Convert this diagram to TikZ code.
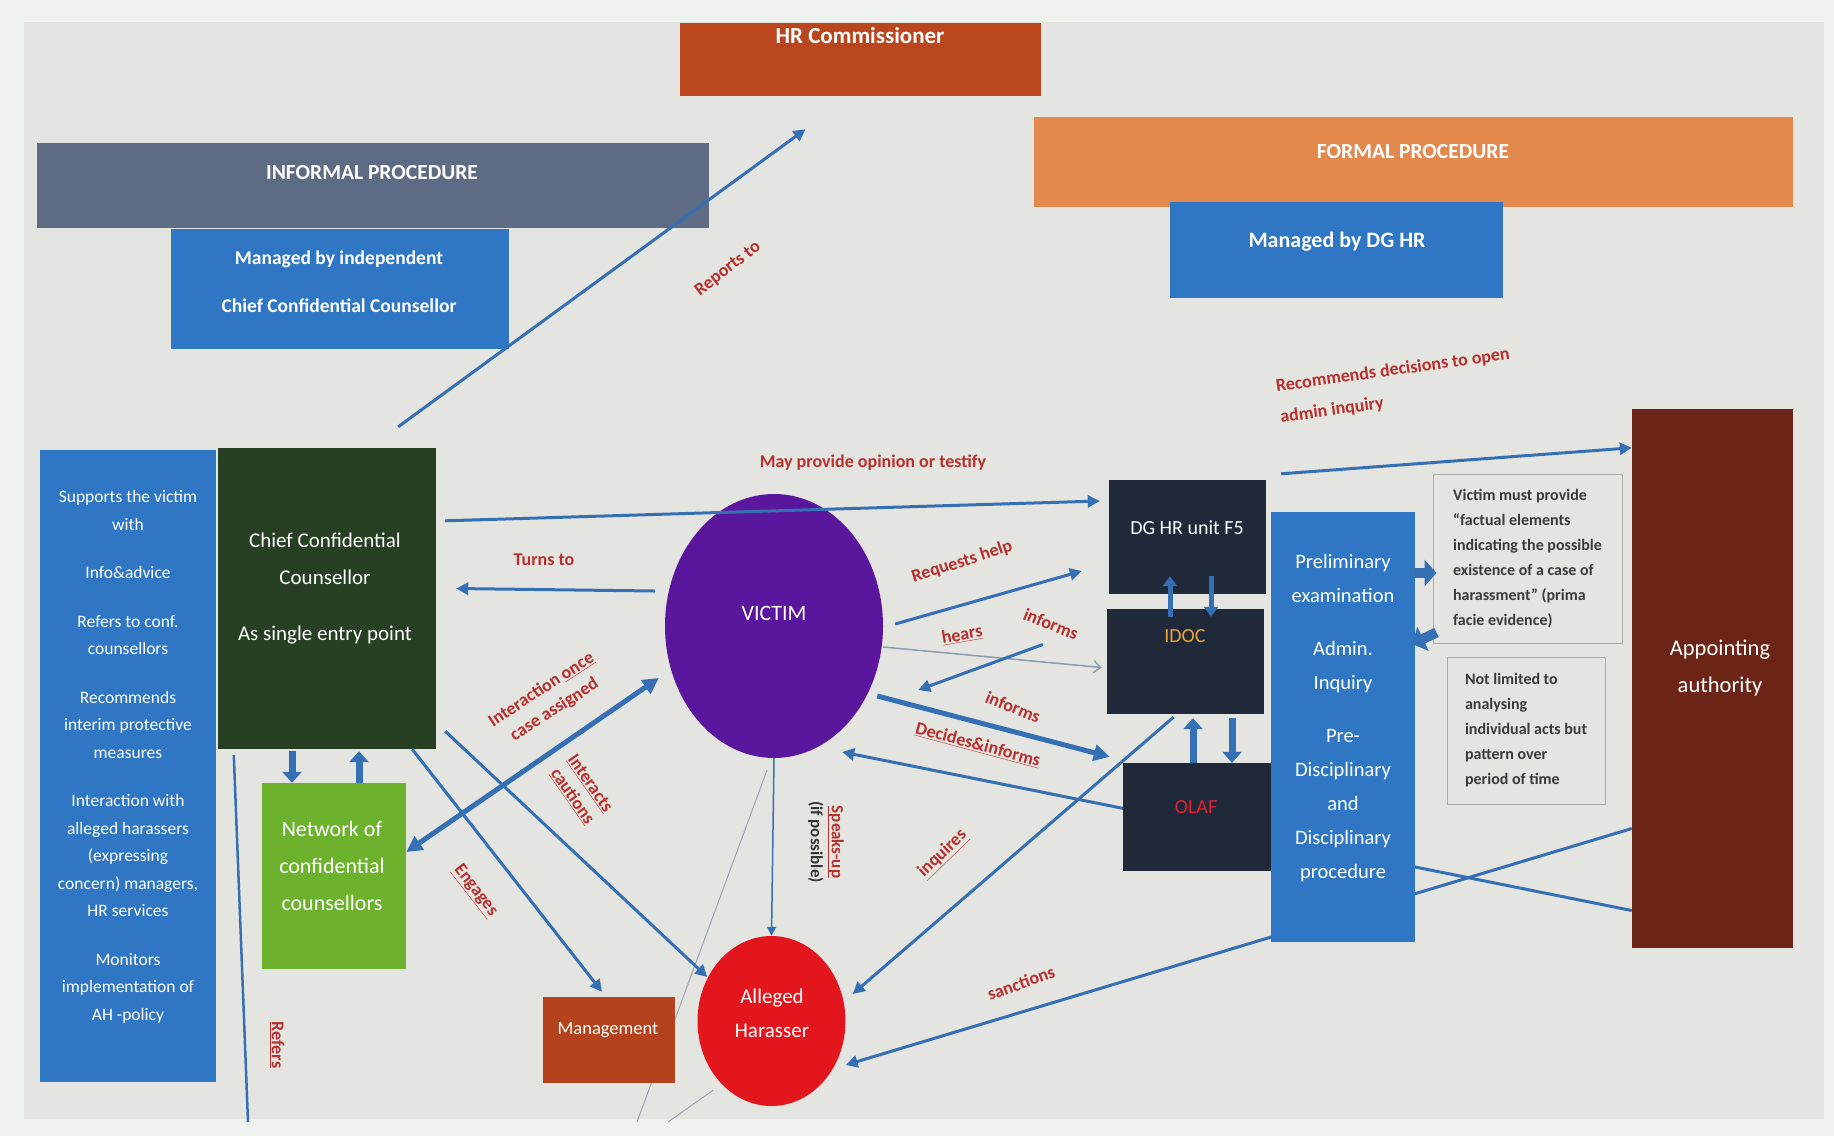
\documentclass[tikz,border=0pt]{standalone}
\usepackage{fontspec}
\setmainfont{Carlito}
\usetikzlibrary{arrows.meta,shapes.geometric,calc,positioning}
\definecolor{framebg}{HTML}{EEF3EE}
\definecolor{screenbg}{HTML}{E4E4E1}
\definecolor{arrblue}{HTML}{3570B5}
\definecolor{labred}{HTML}{B8302E}
\definecolor{boxblue}{HTML}{2F77C4}
\definecolor{informalgrey}{HTML}{5E6B84}
\definecolor{formalorange}{HTML}{E3894E}
\definecolor{hrred}{HTML}{B9461D}
\definecolor{cccgreen}{HTML}{273F23}
\definecolor{netgreen}{HTML}{6CB22D}
\definecolor{navy}{HTML}{1F2939}
\definecolor{vicpurple}{HTML}{5A169C}
\definecolor{harred}{HTML}{E3161D}
\definecolor{mgmtred}{HTML}{B3421D}
\definecolor{apptbrown}{HTML}{6B2416}
\definecolor{idocorange}{HTML}{E9A43C}
\definecolor{olafred}{HTML}{E0222C}
\definecolor{notegrey}{HTML}{A9A9A6}
\definecolor{notetext}{HTML}{3A3A3A}
\definecolor{faintgrey}{HTML}{9AA3B2}
\definecolor{hearsgrey}{HTML}{8D9BB0}
\definecolor{darktext}{HTML}{333333}
\pgfdeclarelayer{back}
\pgfdeclarelayer{bg}
\pgfsetlayers{back,bg,main}
\begin{document}
\begin{tikzpicture}[x=1pt,y=-1pt,
  box/.style={rectangle,inner sep=0pt},
  wtxt/.style={text=white,align=center,inner sep=0pt},
  lbl/.style={text=labred,font=\fontsize{18}{22}\selectfont\bfseries,align=center,inner sep=0pt},
  arr/.style={draw=arrblue,line width=3pt,-{Triangle[length=12pt,width=12pt]}},
  heavy/.style={draw=arrblue,line width=5pt,-{Triangle[length=16pt,width=16pt]}},
  fat/.style={draw=arrblue,line width=7pt,-{Triangle[length=11pt,width=19pt]}},
  thin/.style={draw=arrblue,line width=1.5pt,-{Triangle[length=9pt,width=9pt]}},
  faint/.style={draw=faintgrey,line width=1pt},
  note/.style={draw=notegrey,line width=1pt,rectangle,inner sep=0pt,text=notetext,align=left,font=\fontsize{16}{25}\selectfont\bfseries}]
\useasboundingbox (0,0) rectangle (1834,1136);
\begin{pgfonlayer}{back}
\fill[framebg] (0,0) rectangle (1834,1136);
\fill[screenbg] (24,22) rectangle (1824,1119);
\end{pgfonlayer}

\node[box,fill=hrred,minimum width=361pt,minimum height=73pt] (hrc) at (860.5,59.5) {};
\node[box,fill=informalgrey,minimum width=672pt,minimum height=85pt] (informal) at (373,185.5) {};
\node[box,fill=boxblue,minimum width=338pt,minimum height=120pt] (mindep) at (340,289) {};
\node[box,fill=formalorange,minimum width=759pt,minimum height=90pt] (formal) at (1413.5,162) {};
\node[box,fill=boxblue,minimum width=333pt,minimum height=96pt] (mdghr) at (1336.5,250) {};
\node[box,fill=boxblue,minimum width=176pt,minimum height=632pt] (leftcol) at (128,766) {};
\node[box,fill=cccgreen,minimum width=218pt,minimum height=301pt] (ccc) at (327,598.5) {};
\node[box,fill=netgreen,minimum width=144pt,minimum height=186pt] (network) at (334,876) {};
\node[box,fill=mgmtred,minimum width=132pt,minimum height=86pt] (mgmt) at (609,1040) {};
\node[ellipse,fill=vicpurple,inner sep=0pt,minimum width=218pt,minimum height=264pt] (victim) at (774,626) {};
\node[ellipse,fill=harred,inner sep=0pt,minimum width=148pt,minimum height=170pt] (harasser) at (771.5,1021) {};
\node[box,fill=navy,minimum width=157pt,minimum height=114pt] (dghr) at (1187.5,537) {};
\node[box,fill=navy,minimum width=157pt,minimum height=105pt] (idoc) at (1185.5,661.5) {};
\node[box,fill=navy,minimum width=148pt,minimum height=108pt] (olaf) at (1197,817) {};
\node[box,fill=boxblue,minimum width=144pt,minimum height=430pt] (prelim) at (1343,727) {};
\node[box,fill=apptbrown,minimum width=161pt,minimum height=539pt] (appoint) at (1712.5,678.5) {};
\node[note,minimum width=189pt,minimum height=169pt] (factual) at (1527.5,558.5) {Victim must provide\\“factual elements\\indicating the possible\\existence of a case of\\harassment” (prima\\facie evidence)};
\node[note,minimum width=158pt,minimum height=147pt] (notlim) at (1526,730.5) {Not limited to\\analysing\\individual acts but\\pattern over\\period of time};

\node[wtxt,font=\fontsize{23}{26}\selectfont\bfseries] (hrctxt) at (860,36) {HR Commissioner};
\node[wtxt,font=\fontsize{21.5}{24}\selectfont\bfseries] (informaltxt) at (372,173) {INFORMAL PROCEDURE};
\node[wtxt,font=\fontsize{19.5}{48}\selectfont\bfseries] (mindeptxt) at (339,282) {Managed by independent\\Chief Confidential Counsellor};
\node[wtxt,font=\fontsize{21.5}{24}\selectfont\bfseries] (formaltxt) at (1413,152) {FORMAL PROCEDURE};
\node[wtxt,font=\fontsize{22}{24}\selectfont\bfseries] (mdghrtxt) at (1337,242) {Managed by DG HR};
\node[wtxt,font=\fontsize{17.5}{27.5}\selectfont] (leftcoltxt) at (128,757) {Supports the victim\\with\\[21pt]Info\&advice\\[21pt]Refers to conf.\\counsellors\\[21pt]Recommends\\interim protective\\measures\\[21pt]Interaction with\\alleged harassers\\(expressing\\concern) managers,\\HR services\\[21pt]Monitors\\implementation of\\AH -policy};
\node[wtxt,font=\fontsize{21}{37}\selectfont] (ccctxt) at (325,589) {Chief Confidential\\Counsellor\\[19pt]As single entry point};
\node[wtxt,font=\fontsize{22}{37}\selectfont] (networktxt) at (332,866) {Network of\\confidential\\counsellors};
\node[wtxt,font=\fontsize{22}{24}\selectfont] (victimtxt) at (774,613) {VICTIM};
\node[wtxt,font=\fontsize{18.5}{20}\selectfont] (mgmttxt) at (608,1030) {Management};
\node[wtxt,font=\fontsize{21}{34}\selectfont] (harassertxt) at (772,1013) {Alleged\\Harasser};
\node[wtxt,font=\fontsize{20}{22}\selectfont] (dghrtxt) at (1187,528) {DG HR unit F5};
\node[wtxt,text=idocorange,font=\fontsize{20}{22}\selectfont] (idoctxt) at (1185,636) {IDOC};
\node[wtxt,text=olafred,font=\fontsize{20}{22}\selectfont] (olaftxt) at (1196,807) {OLAF};
\node[wtxt,font=\fontsize{20.5}{34}\selectfont] (prelimtxt) at (1343,718) {Preliminary\\examination\\[19pt]Admin.\\Inquiry\\[19pt]Pre-\\Disciplinary\\and\\Disciplinary\\procedure};
\node[wtxt,font=\fontsize{22.5}{37}\selectfont] (appointtxt) at (1720,668) {Appointing\\authority};

\begin{pgfonlayer}{bg}
\draw[arr] ($(appoint.west)+(0,232)$) -- ($(victim.east)+(-41,126)$);
\draw[arr] ($(appoint.west)+(0,150)$) -- ($(harasser.east)+(0,44)$);
\coordinate (exitl) at (637,1122);
\draw[faint] ($(victim.south)+(-7,12)$) -- (exitl);
\end{pgfonlayer}

\draw[arr] ($(ccc.north east)+(-38,-21)$) -- ($(hrc.south)+(-55,33)$);
\draw[arr] ($(ccc.north east)+(9,73)$) -- ($(dghr.west)+(-9,-36)$);
\draw[arr] ($(victim.west)+(-10,-35)$) -- ($(ccc.east)+(20,-10)$);
\draw[arr] ($(victim.east)+(12,-2)$) -- ($(dghr.west)+(-27,34)$);
\draw[draw=hearsgrey,line width=1.5pt,-{Straight Barb[length=7pt,width=12pt]}] ($(victim.east)+(0,21)$) -- ($(idoc.west)+(-5,6)$);
\draw[arr] ($(idoc.west)+(-64,-17)$) -- ($(victim.east)+(35,64)$);
\draw[heavy] ($(victim.east)+(-6,70)$) -- ($(olaf.north west)+(-13,-6)$);
\draw[arr] ($(idoc.south)+(-12,3)$) -- ($(harasser.east)+(7,-27)$);
\draw[arr] ($(dghr.north east)+(15,-6)$) -- ($(appoint.north west)+(0,39)$);
\draw[thin] (victim.south) -- (harasser.north);
\coordinate (exitr) at (668,1122);
\coordinate (exitb) at (248,1122);
\draw[faint] ($(harasser.south west)+(-6,9)$) -- (exitr);
\draw[heavy,{Triangle[length=16pt,width=16pt]}-{Triangle[length=16pt,width=16pt]}] ($(network.east)+(0,-24)$) -- ($(victim.west)+(-6,52)$);
\draw[arr] ($(ccc.south east)+(9,-18)$) -- ($(harasser.west)+(10,-44)$);
\draw[arr] ($(ccc.south east)+(-24,0)$) -- ($(mgmt.north)+(-7,-5)$);
\draw[draw=arrblue,line width=2.5pt] ($(ccc.south west)+(16,6)$) -- (exitb);

\draw[fat] ($(ccc.south)+(-35,2)$) -- ($(network.north)+(-42,0)$);
\draw[fat] ($(network.north)+(25,0)$) -- ($(ccc.south)+(32,2)$);
\draw[draw=arrblue,line width=5pt,-{Triangle[length=10pt,width=14pt]}] ($(idoc.north)+(-15.5,8)$) -- ($(dghr.south)+(-17.5,-18)$);
\draw[draw=arrblue,line width=5pt,-{Triangle[length=10pt,width=14pt]}] ($(dghr.south)+(23.5,-18)$) -- ($(idoc.north)+(25.5,8)$);
\draw[fat] ($(olaf.north)+(-4,0)$) -- ($(idoc.south)+(7.5,4)$);
\draw[fat] ($(idoc.south)+(46.5,4)$) -- ($(olaf.north)+(35,0)$);
\draw[draw=arrblue,line width=10pt,-{Triangle[length=12pt,width=26pt]}] ($(prelim.east)+(-5,-154)$) -- ($(factual.west)+(4,14.5)$);
\draw[draw=arrblue,line width=10pt,-{Triangle[length=12pt,width=26pt]}] ($(factual.west)+(4,74)$) -- ($(prelim.east)+(-3,-83)$);

\node[lbl,rotate=38] (reportslbl) at (728,269) {Reports to};
\node[lbl] (opinionlbl) at (873,463) {May provide opinion or testify};
\node[lbl] (turnslbl) at (544,560) {Turns to};
\node[lbl,rotate=18] (requestslbl) at (962,562) {Requests help};
\node[lbl,rotate=10] (hearslbl) at (962,635) {\underline{hears}};
\node[lbl,rotate=-22] (informslbl) at (1051,624) {informs};
\node[lbl,rotate=-22] (informsbis) at (1013,707) {informs};
\node[lbl,rotate=-15] (decideslbl) at (978,745) {\underline{Decides\&informs}};
\node[lbl,rotate=33,font=\fontsize{18}{24}\selectfont\bfseries] (interactionlbl) at (548,700) {Interaction \underline{once}\\case assigned};
\node[lbl,rotate=-55] (interactslbl) at (581,790) {\underline{Interacts}\\\underline{cautions}};
\node[lbl,rotate=-52] (engageslbl) at (475,891) {\underline{Engages}};
\node[lbl,rotate=-90,font=\fontsize{17}{21}\selectfont\bfseries] (speakslbl) at (826,842) {\underline{Speaks-up}\\{\color{darktext}(if possible)}};
\node[lbl,rotate=44] (inquireslbl) at (943,854) {\underline{inquires}};
\node[lbl,rotate=20] (sanctionslbl) at (1021,983) {sanctions};
\node[lbl,rotate=-90] (referslbl) at (277,1045) {\underline{Refers}};
\node[lbl,rotate=8,align=left,font=\fontsize{18}{31}\selectfont\bfseries] (recommendslbl) at (1395,386) {Recommends decisions to open\\admin inquiry};
\end{tikzpicture}
\end{document}
